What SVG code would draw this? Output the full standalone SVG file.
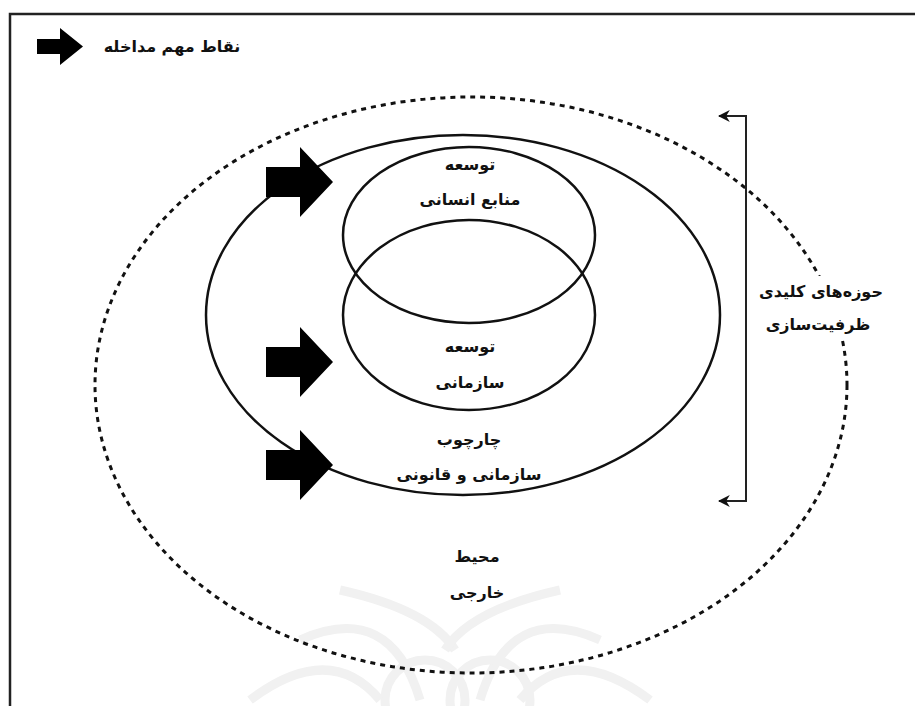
<svg xmlns="http://www.w3.org/2000/svg" width="915" height="706" viewBox="0 0 915 706">
<style>
  .lbl { font-family: "DejaVu Sans", "Noto Sans", sans-serif; font-weight: bold; font-size: 16px; fill: #111; text-anchor: middle; }
  .solid { fill: none; stroke: #111; stroke-width: 2.5; }
  .dashed { fill: none; stroke: #111; stroke-width: 3; stroke-dasharray: 5 5; }
  .wm { fill: none; stroke: #f1f1f1; stroke-width: 9; }
  .blk { fill: #000; }
</style>
<defs>
  <marker id="ah" viewBox="0 0 10 10" refX="9" refY="5" markerWidth="6" markerHeight="6" orient="auto-start-reverse">
    <path d="M10,5 L0,0 L3,5 L0,10 Z" fill="#111"/>
  </marker>
</defs>
<rect width="915" height="706" fill="#fff"/>
<g id="watermark">
  <path class="wm" d="M300,640 Q390,600 420,700"/>
  <path class="wm" d="M600,640 Q510,600 480,700"/>
  <path class="wm" d="M340,590 Q430,610 455,650"/>
  <path class="wm" d="M560,590 Q470,610 445,650"/>
  <circle class="wm" cx="425" cy="700" r="40"/>
  <circle class="wm" cx="490" cy="700" r="40"/>
  <path class="wm" d="M250,700 Q330,640 380,700"/>
  <path class="wm" d="M650,700 Q570,640 520,700"/>
</g>
<g id="frame">
  <rect x="10" y="14" width="915" height="710" fill="none" stroke="#222" stroke-width="2.5"/>
</g>
<g id="legend">
  <polygon class="blk" points="37,39 60,39 60,28 83,46.5 60,65 60,54 37,54"/>
  <text class="lbl" x="172" y="52" direction="rtl">نقاط مهم مداخله</text>
</g>
<g id="external">
  <ellipse class="dashed" cx="471" cy="385" rx="376" ry="288"/>
  <text class="lbl" x="477" y="562" direction="rtl">محیط</text>
  <text class="lbl" x="477" y="598" direction="rtl">خارجی</text>
</g>
<g id="framework">
  <ellipse class="solid" cx="463" cy="315" rx="257" ry="180"/>
  <text class="lbl" x="469" y="445" direction="rtl">چارچوب</text>
  <text class="lbl" x="469" y="480" direction="rtl">سازمانی و قانونی</text>
</g>
<g id="hr">
  <ellipse class="solid" cx="469" cy="235" rx="126" ry="88"/>
  <text class="lbl" x="470" y="170" direction="rtl">توسعه</text>
  <text class="lbl" x="470" y="205" direction="rtl">منابع انسانی</text>
</g>
<g id="org">
  <ellipse class="solid" cx="469" cy="315" rx="126" ry="95"/>
  <text class="lbl" x="470" y="352" direction="rtl">توسعه</text>
  <text class="lbl" x="470" y="388" direction="rtl">سازمانی</text>
</g>
<g id="entry-arrows">
  <polygon class="blk" points="266,167 300,167 300,147 333,182 300,217 300,197 266,197"/>
  <polygon class="blk" points="266,347 300,347 300,327 333,362 300,397 300,377 266,377"/>
  <polygon class="blk" points="266,450 300,450 300,430 333,465 300,500 300,480 266,480"/>
</g>
<g id="connectors">
  <path d="M719,116 L746,116 L746,501 L719,501" fill="none" stroke="#222" stroke-width="2" marker-start="url(#ah)" marker-end="url(#ah)"/>
</g>
<g id="key-areas">
  <rect x="758" y="276" width="124" height="62" fill="#fff"/>
  <text class="lbl" x="821" y="297" direction="rtl">حوزه‌های کلیدی</text>
  <text class="lbl" x="818" y="330" direction="rtl">ظرفیت‌سازی</text>
</g>
</svg>
